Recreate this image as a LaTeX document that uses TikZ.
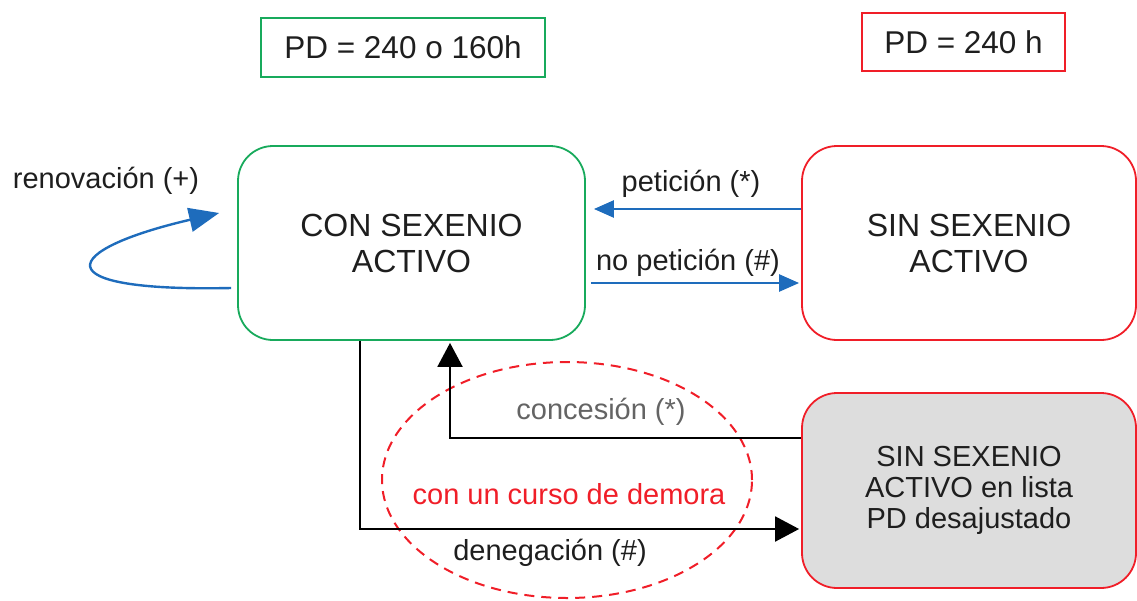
\documentclass[tikz,border=0pt]{standalone}
\usepackage{fontspec}
\setmainfont{Liberation Sans}
\usetikzlibrary{arrows.meta,calc,shapes.geometric}
\definecolor{boxgreen}{RGB}{24,170,92}
\definecolor{boxred}{RGB}{240,30,40}
\definecolor{arrblue}{RGB}{30,108,188}
\definecolor{txt}{RGB}{30,30,30}
\definecolor{lgray}{RGB}{221,221,221}
\definecolor{labgray}{RGB}{100,100,100}
\begin{document}
\begin{tikzpicture}[x=1pt,y=-1pt,
  pdbox/.style={draw, line width=2pt, rectangle, inner sep=0pt, text=txt,
    font=\fontsize{31.5pt}{36pt}\selectfont},
  state/.style={draw, line width=1.8pt, rectangle, rounded corners=35pt, inner sep=0pt,
    text=txt, align=center, font=\fontsize{32pt}{36pt}\selectfont,
    minimum height=194pt},
  lab/.style={text=txt, inner sep=0pt, font=\fontsize{29pt}{31pt}\selectfont},
  bluearr/.style={draw=arrblue, line width=2.4pt, -{Triangle[length=20pt,width=17pt]}},
  loopsarr/.style={draw=arrblue, line width=2.4pt, -{Triangle[length=30pt,width=24pt]}},
  blackarr/.style={draw=black, line width=2pt, -{Triangle[length=24pt,width=25pt]}}
]
\useasboundingbox (0,0) rectangle (1137,600);

% header boxes
\node[pdbox, draw=boxgreen, minimum width=284pt, minimum height=59pt] (pdg) at (403,47.5) {PD = 240 o 160h};
\node[pdbox, draw=boxred, minimum width=203pt, minimum height=58pt] (pdr) at (963.5,42) {PD = 240 h};

% states
\node[state, draw=boxgreen, minimum width=347pt] (con) at (411.5,243) {CON SEXENIO\\ACTIVO};
\node[state, draw=boxred, minimum width=334pt] (sin) at (969,243) {SIN SEXENIO\\ACTIVO};
\node[state, draw=boxred, fill=lgray, minimum width=334pt, minimum height=195pt,
  font=\fontsize{29pt}{31pt}\selectfont] (lista) at (969,490.5) {SIN SEXENIO\\ACTIVO en lista\\PD desajustado};

% delay ellipse
\node[ellipse, draw=boxred, dashed, dash pattern=on 10pt off 7pt, line width=2pt,
  minimum width=370pt, minimum height=236pt, inner sep=0pt] (delay) at (567,480) {};
\node[lab, text=boxred] (delaytxt) at (569,494) {con un curso de demora};

% renovation loop
\coordinate (loopstart) at ($(con.west)+(-6,45)$);
\coordinate (loopend) at ($(con.west)+(-18,-30)$);
\draw[loopsarr] (loopstart) .. controls (40,292) and (60,250) .. (loopend);
\node[lab] (renov) at (106,181) {renovación (+)};

% peticion / no peticion
\draw[bluearr, shorten >=8pt] ($(sin.west)+(0,-34)$) -- ($(con.east)+(0,-34)$);
\node[lab] (pet) at (691,184) {petición (*)};
\draw[bluearr, shorten <=5pt, shorten >=2pt] ($(con.east)+(0,40)$) -- ($(sin.west)+(0,40)$);
\node[lab] (nopet) at (688,263) {no petición (\#)};

% concesion / denegacion
\draw[blackarr, shorten >=2pt] ($(lista.west)+(0,-52.5)$) -| ($(con.south)+(38.5,0)$);
\node[lab, text=labgray] (conc) at (601,412) {concesión (*)};
\draw[blackarr, shorten >=2pt] ($(con.south)+(-51.5,0)$) |- ($(lista.west)+(0,38.5)$);
\node[lab] (deneg) at (550,553) {denegación (\#)};
\end{tikzpicture}
\end{document}
